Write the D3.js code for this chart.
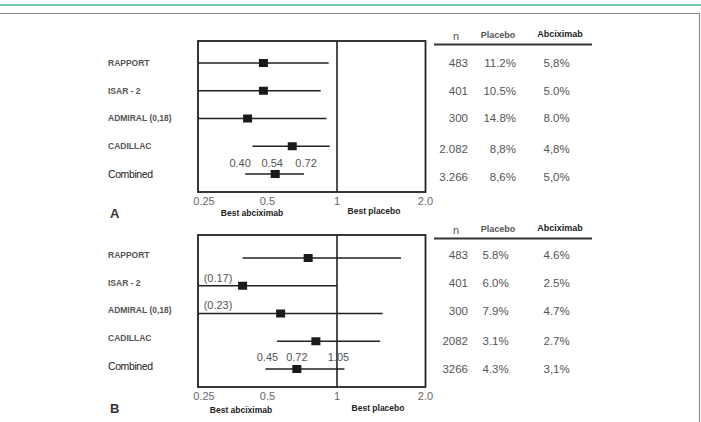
<!DOCTYPE html>
<html>
<head>
<meta charset="utf-8">
<script src="https://cdn.jsdelivr.net/npm/d3@7"></script>
<style>
  body { margin: 0; background: #fff; }
  svg { display: block; font-family: 'Liberation Sans', Arial, sans-serif; }
</style>
</head>
<body>
<div id="chart"></div>
<script>
const studies = ['RAPPORT', 'ISAR - 2', 'ADMIRAL (0,18)', 'CADILLAC', 'Combined'];

// panel A: odds ratio point estimates and 95% CI (lower bound 0.25 = clipped)
const estA = [0.48, 0.48, 0.41, 0.64, 0.54];
const lowA = [0.25, 0.25, 0.25, 0.43, 0.40];
const highA = [0.92, 0.85, 0.90, 0.93, 0.72];
const nA = ['483', '401', '300', '2.082', '3.266'];
const placeboA = ['11.2%', '10.5%', '14.8%', '8,8%', '8,6%'];
const abcixA = ['5,8%', '5.0%', '8.0%', '4,8%', '5,0%'];
const combinedLabelsA = ['0.40', '0.54', '0.72'];

// panel B
const estB = [0.75, 0.39, 0.57, 0.81, 0.67];
const lowB = [0.39, 0.25, 0.25, 0.55, 0.49];
const highB = [1.65, 1.0, 1.43, 1.40, 1.06];
const nB = ['483', '401', '300', '2082', '3266'];
const placeboB = ['5.8%', '6.0%', '7.9%', '3.1%', '4.3%'];
const abcixB = ['4.6%', '2.5%', '4.7%', '2.7%', '3,1%'];
const combinedLabelsB = ['0.45', '0.72', '1.05'];
const clippedLabelsB = [null, '(0.17)', '(0.23)', null, null];

const tickValues = [0.25, 0.5, 1, 2];
const tickLabels = ['0.25', '0.5', '1', '2.0'];
const headers = ['n', 'Placebo', 'Abciximab'];

const width = 701;
const height = 422;

const svg = d3.select('#chart').append('svg')
  .attr('width', width)
  .attr('height', height);

// page decoration
svg.append('line')
  .attr('x1', 0).attr('x2', width).attr('y1', 5).attr('y2', 5)
  .attr('stroke', '#45b596').attr('stroke-width', 1.6);
svg.append('path')
  .attr('d', `M0,13.5H699.5V${height}`)
  .attr('fill', 'none').attr('stroke', '#8a8a8a').attr('stroke-width', 1.2);

// odd axis: 0.25..1 evenly spaced per doubling, 1..2 a bit wider
const x = d3.scaleLog()
  .domain([0.25, 1, 2])
  .range([198, 337, 425.5])
  .clamp(true);

const drawPanel = (cfg) => {
  const g = svg.append('g');
  const y = d3.scalePoint()
    .domain(studies)
    .range(cfg.rows);

  // plot box
  g.append('rect')
    .attr('x', x(0.25)).attr('y', cfg.top)
    .attr('width', x(2) - x(0.25)).attr('height', cfg.bottom - cfg.top)
    .attr('fill', 'none').attr('stroke', '#222').attr('stroke-width', 1.8);
  g.append('line')
    .attr('x1', x(1)).attr('x2', x(1))
    .attr('y1', cfg.top).attr('y2', cfg.bottom)
    .attr('stroke', '#222').attr('stroke-width', 1.6);

  // CI lines and squares
  studies.forEach((s, i) => {
    g.append('line')
      .attr('x1', x(cfg.low[i])).attr('x2', x(cfg.high[i]))
      .attr('y1', y(s)).attr('y2', y(s))
      .attr('stroke', '#222').attr('stroke-width', 1.6);
    g.append('rect')
      .attr('x', x(cfg.est[i]) - 4.5).attr('y', y(s) - 4)
      .attr('width', 9).attr('height', 8)
      .attr('fill', '#1a1a1a');
  });

  // study labels
  g.selectAll('text.study')
    .data(studies)
    .enter().append('text')
    .attr('class', 'study')
    .attr('x', 108)
    .attr('y', d => y(d) + cfg.labelShift)
    .attr('dy', '0.35em')
    .attr('fill', d => (d === 'Combined' ? '#222' : '#555'))
    .style('font-size', d => (d === 'Combined' ? '10.5px' : '8.5px'))
    .style('font-weight', d => (d === 'Combined' ? 'normal' : 'bold'))
    .style('letter-spacing', d => (d === 'Combined' ? '-0.4px' : '0'))
    .text(d => d);

  // combined CI labels
  const last = studies.length - 1;
  const comb = [cfg.low[last], cfg.est[last], cfg.high[last]];
  g.selectAll('text.comb')
    .data(cfg.combinedLabels)
    .enter().append('text')
    .attr('class', 'comb')
    .attr('x', (d, i) => x(comb[i]) + cfg.combShift[i])
    .attr('y', cfg.combY)
    .attr('dy', '0.35em')
    .attr('text-anchor', 'middle')
    .attr('fill', '#555')
    .style('font-size', '11px')
    .text(d => d);

  // clipped lower bound labels
  if (cfg.clipped) {
    studies.forEach((s, i) => {
      if (!cfg.clipped[i]) return;
      g.append('text')
        .attr('x', x(0.25) + 20).attr('y', y(s) - 8)
        .attr('dy', '0.35em')
        .attr('text-anchor', 'middle')
        .attr('fill', '#555')
        .style('font-size', '11px')
        .text(cfg.clipped[i]);
    });
  }

  // x axis tick labels (no tick marks)
  g.selectAll('text.tick')
    .data(tickValues)
    .enter().append('text')
    .attr('class', 'tick')
    .attr('x', d => x(d) + (d === 0.25 ? 6 : 0))
    .attr('y', cfg.bottom + 9)
    .attr('dy', '0.35em')
    .attr('text-anchor', 'middle')
    .attr('fill', '#666')
    .style('font-size', '11px')
    .text((d, i) => tickLabels[i]);

  g.append('text')
    .attr('x', cfg.bestA).attr('y', cfg.bestY)
    .attr('dy', '0.35em').attr('text-anchor', 'middle')
    .attr('fill', '#222')
    .style('font-size', '8.5px').style('font-weight', 'bold')
    .text('Best abciximab');
  g.append('text')
    .attr('x', cfg.bestP).attr('y', cfg.bestY - 2)
    .attr('dy', '0.35em').attr('text-anchor', 'middle')
    .attr('fill', '#222')
    .style('font-size', '8.5px').style('font-weight', 'bold')
    .text('Best placebo');
  g.append('text')
    .attr('x', 110).attr('y', cfg.letterY)
    .attr('dy', '0.35em')
    .attr('fill', '#333')
    .style('font-size', '13px').style('font-weight', 'bold')
    .text(cfg.letter);

  // table
  const t = svg.append('g');
  const colX = [456, 498, 560];
  t.selectAll('text.head')
    .data(headers)
    .enter().append('text')
    .attr('class', 'head')
    .attr('x', (d, i) => colX[i])
    .attr('y', (d, i) => cfg.headY - i)
    .attr('dy', '0.35em')
    .attr('text-anchor', 'middle')
    .attr('fill', (d, i) => (i === 2 ? '#222' : '#555'))
    .style('font-size', (d, i) => (i === 0 ? '11px' : '9px'))
    .style('font-weight', (d, i) => (i === 0 ? 'normal' : 'bold'))
    .text(d => d);
  t.append('line')
    .attr('x1', 434).attr('x2', 592)
    .attr('y1', cfg.headY + 8.5).attr('y2', cfg.headY + 8.5)
    .attr('stroke', '#333').attr('stroke-width', 1.8);

  const cells = [
    { vals: cfg.n, x: 468, anchor: 'end' },
    { vals: cfg.placebo, x: cfg.placeboX, anchor: cfg.placeboAnchor },
    { vals: cfg.abcix, x: 543.5, anchor: 'start' },
  ];
  cells.forEach(c => {
    t.selectAll(null)
      .data(c.vals)
      .enter().append('text')
      .attr('x', c.x)
      .attr('y', (d, i) => cfg.tableRows[i])
      .attr('dy', '0.35em')
      .attr('text-anchor', c.anchor)
      .attr('fill', '#555')
      .style('font-size', '11.5px')
      .text(d => d);
  });
};

drawPanel({
  letter: 'A',
  top: 41, bottom: 192,
  rows: [63, 174],
  labelShift: 0,
  est: estA, low: lowA, high: highA,
  combinedLabels: combinedLabelsA,
  combShift: [-5, -3, 2],
  combY: 163,
  clipped: null,
  bestA: 252, bestP: 374, bestY: 213,
  letterY: 213,
  headY: 36,
  n: nA, placebo: placeboA, abcix: abcixA,
  placeboX: 516, placeboAnchor: 'end',
  tableRows: [63, 91, 118, 149, 177],
});

drawPanel({
  letter: 'B',
  top: 235, bottom: 387,
  rows: [258, 369],
  labelShift: -3,
  est: estB, low: lowB, high: highB,
  combinedLabels: combinedLabelsB,
  combShift: [2, 0, -6],
  combY: 357,
  clipped: clippedLabelsB,
  bestA: 241, bestP: 378, bestY: 410,
  letterY: 408,
  headY: 230,
  n: nB, placebo: placeboB, abcix: abcixB,
  placeboX: 482.5, placeboAnchor: 'start',
  tableRows: [255, 283, 311, 341, 369],
});
</script>
</body>
</html>
